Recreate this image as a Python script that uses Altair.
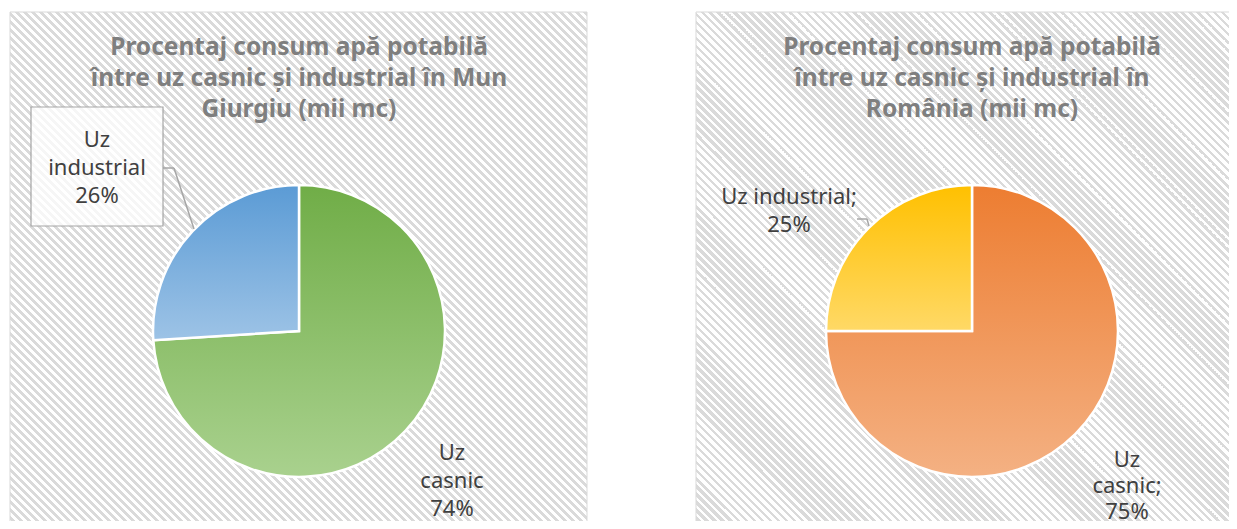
import altair as alt
import pandas as pd

# ---------------- data ----------------
regions = ["Mun Giurgiu", "România"]
categories = ["Uz casnic", "Uz industrial"]
giurgiu_pct = [74, 26]
romania_pct = [75, 25]

title_giurgiu = ["Procentaj consum apă potabilă",
                 "între uz casnic și industrial în Mun",
                 "Giurgiu (mii mc)"]
title_romania = ["Procentaj consum apă potabilă",
                 "între uz casnic și industrial în",
                 "România (mii mc)"]

# how each category name is broken into lines, and the separator before the value
label_lines_giurgiu = [["Uz", "casnic"], ["Uz", "industrial"]]
label_lines_romania = [["Uz", "casnic;"], ["Uz industrial;"]]

rows = []
for reg, vals, lines in [(regions[0], giurgiu_pct, label_lines_giurgiu),
                         (regions[1], romania_pct, label_lines_romania)]:
    for i, (cat, v) in enumerate(zip(categories, vals)):
        rows.append({"region": reg, "cat": cat, "pct": v, "ord": i,
                     "label": "\n".join(lines[i] + [f"{v}%"])})
df = pd.DataFrame(rows)

# ---------------- styling helpers ----------------
W, H = 1221, 513
FONT = "Noto Sans"


def stripes(w, h, period=8.0, c1="#ffffff", c2="#dadada"):
    k = (w + h) / (w * w + h * h)
    n = int(round((w + h) / period))
    stops = []
    for i in range(n):
        a, b, c = i / n, (i + 0.5) / n, (i + 1) / n
        stops += [{"offset": round(a, 6), "color": c1}, {"offset": round(b, 6), "color": c1},
                  {"offset": round(b, 6), "color": c2}, {"offset": round(c, 6), "color": c2}]
    return {"gradient": "linear", "x1": 0, "y1": 1, "x2": k * w, "y2": 1 - k * h,
            "stops": stops}


def vgrad(top, bottom):
    return {"gradient": "linear", "x1": 0, "y1": 0, "x2": 0, "y2": 1,
            "stops": [{"offset": 0, "color": top}, {"offset": 1, "color": bottom}]}


one = alt.Data(values=[{"a": 1}])

panels = [(2, 579, 4, 540), (688, 1240, 4, 540)]
layers = []
for (x0, x1, y0, y1) in panels:
    layers.append(
        alt.Chart(one).mark_rect(fill=stripes(x1 - x0, y1 - y0), stroke="#d9d9d9",
                                 strokeWidth=1).encode(
            x=alt.value(x0), x2=alt.value(x1), y=alt.value(y0), y2=alt.value(y1))
    )

# titles (y is the first line's centre)
for cx, t in [(291, title_giurgiu), (964, title_romania)]:
    layers.append(
        alt.Chart(one).mark_text(font=FONT, fontSize=24.5, fontWeight="bold", color="#7f7f7f",
                                 align="center", baseline="middle", lineHeight=31).encode(
            x=alt.value(cx), y=alt.value(40), text=alt.value(t))
    )

# pies
pie_specs = [
    (regions[0], 291, 323, vgrad("#70AD47", "#A9D18E"), vgrad("#5B9BD5", "#9DC3E6")),
    (regions[1], 964, 323, vgrad("#ED7D31", "#F4B183"), vgrad("#FFC000", "#FFD966")),
]
for reg, cx, cy, g1, g2 in pie_specs:
    layers.append(
        alt.Chart(df).transform_filter(alt.datum.region == reg).mark_arc(
            outerRadius=146, stroke="white", strokeWidth=2.5).encode(
            theta=alt.Theta("pct:Q", stack=True),
            order=alt.Order("ord:Q"),
            fill=alt.condition(alt.datum.cat == categories[0], alt.value(g1), alt.value(g2)),
            x=alt.value(cx), y=alt.value(cy))
    )

# callout box for left industrial label
layers.append(
    alt.Chart(one).mark_rect(fill="white", fillOpacity=0.75, stroke="#a6a6a6",
                             strokeWidth=1.2).encode(
        x=alt.value(23), x2=alt.value(155), y=alt.value(99), y2=alt.value(218))
)

# leader lines
for (xa, ya, xb, yb) in [(155, 160, 166, 160), (166, 160, 186, 221),
                         (849, 211, 859, 211), (859, 211, 861, 218)]:
    layers.append(
        alt.Chart(one).mark_rule(color="#a6a6a6", strokeWidth=1.5).encode(
            x=alt.value(xa), y=alt.value(ya), x2=alt.value(xb), y2=alt.value(yb))
    )

# data labels (y is the first line's centre)
label_pos = [
    (regions[0], categories[0], 444, 445, 28),
    (regions[0], categories[1], 89, 132, 28),
    (regions[1], categories[0], 1119, 452, 26),
    (regions[1], categories[1], 781, 189, 28),
]
for reg, cat, lx, ly, lh in label_pos:
    layers.append(
        alt.Chart(df).transform_filter(
            (alt.datum.region == reg) & (alt.datum.cat == cat)).mark_text(
            font=FONT, fontSize=22, color="#404040", align="center", baseline="middle",
            lineHeight=lh, lineBreak="\n").encode(
            x=alt.value(lx), y=alt.value(ly), text=alt.Text("label:N"))
    )

chart = alt.layer(*layers).properties(
    width=W, height=H, padding=0, autosize=alt.AutoSizeParams(type="none")
).configure_view(stroke=None)

chart.save("out.html", embed_options={"renderer": "svg", "actions": False})
